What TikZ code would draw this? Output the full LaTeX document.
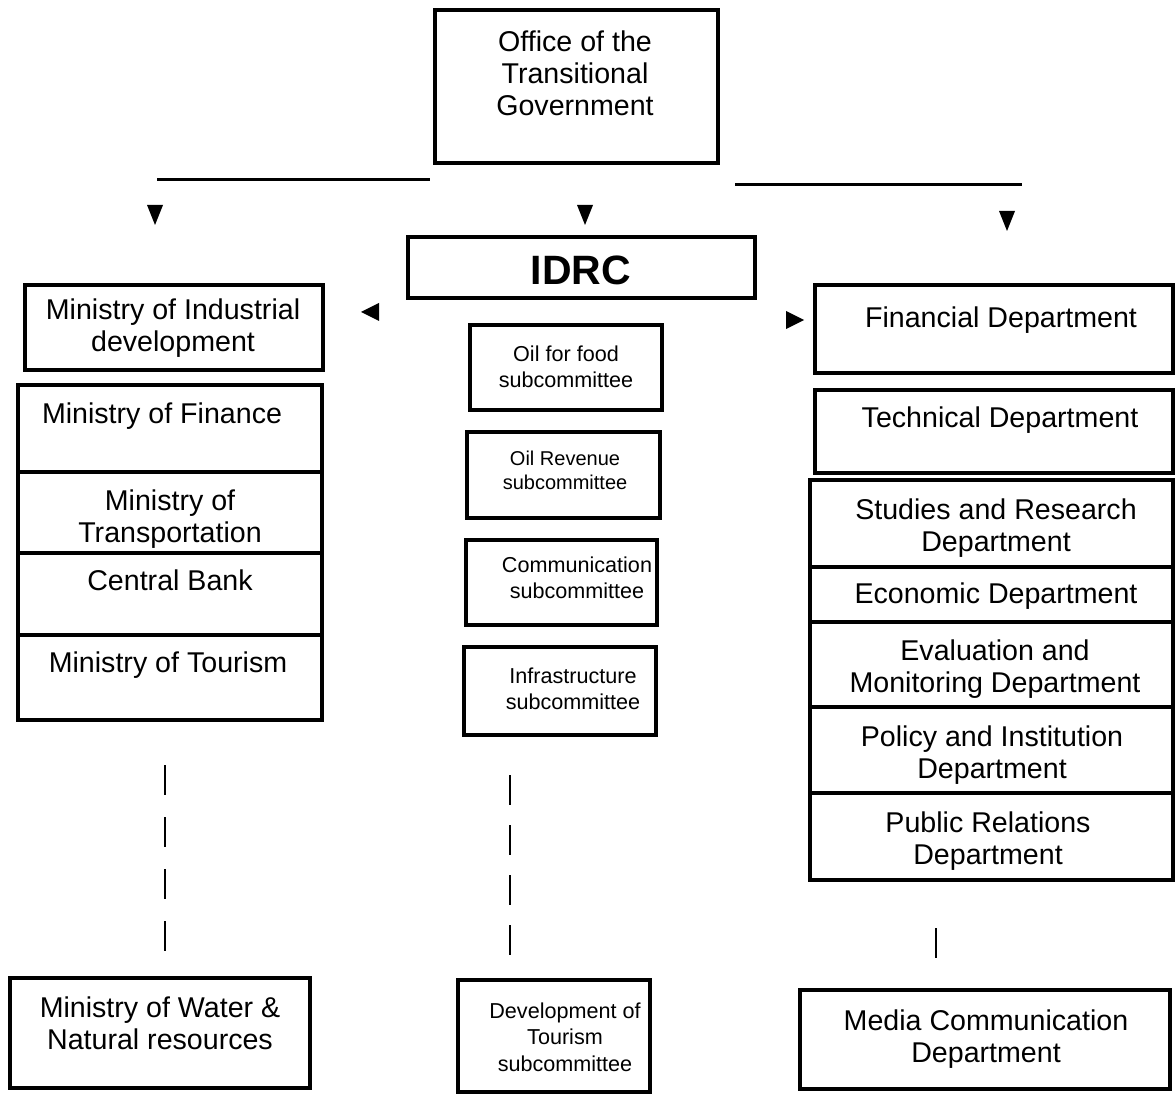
\documentclass[tikz,border=0pt]{standalone}
\usepackage{fontspec}
\setmainfont{Liberation Sans}
\usetikzlibrary{fit}
\begin{document}
\begin{tikzpicture}[x=0.5pt,y=-0.5pt,
  box/.style={draw, line width=2pt, inner sep=0pt},
  cell/.style={draw, line width=1.7pt, inner sep=0pt},
  big/.style={align=center, inner sep=0pt, font=\fontsize{14.3}{16}\selectfont},
  sml/.style={align=center, inner sep=0pt, font=\fontsize{10.8}{13.2}\selectfont},
  link/.style={line width=1.5pt},
  dashlink/.style={line width=1.1pt, dash pattern=on 15pt off 11pt},
  dashlinkb/.style={line width=1.1pt, dash pattern=on 15pt off 10pt},
  tridown/.pic={\fill (-8,-10) -- (8,-10) -- (0,10) -- cycle;},
  trileft/.pic={\fill (9,-9) -- (9,9) -- (-9,0) -- cycle;},
  triright/.pic={\fill (-9,-9) -- (-9,9) -- (9,0) -- cycle;}]
\useasboundingbox (0,0) rectangle (1176,1095);

% top office
\node[box, fit={(435,10)(718,163)}] (office) {};
\node[big] (officeT) at (575,73) {Office of the\\Transitional\\Government};

% distribution lines and markers
\coordinate (hl1) at (157,180);
\coordinate (hl2) at (430,180);
\coordinate (hr1) at (735,185);
\coordinate (hr2) at (1022,185);
\draw[link] (hl1) -- (hl2);
\draw[link] (hr1) -- (hr2);
\pic at (155,215) {tridown};
\pic at (585,215) {tridown};
\pic at (1007,221) {tridown};
\pic at (370,312) {trileft};
\pic at (795,320) {triright};

% IDRC
\node[box, fit={(408,237)(755,298)}] (idrc) {};
\node[inner sep=0pt, font=\fontsize{20.5}{22}\selectfont\bfseries] (idrcT) at (581,270) {IDRC};

% left column
\node[box, fit={(25,285)(323,370)}] (mind) {};
\node[big] (mindT) at (173,328) {Ministry of Industrial\\development};
\node[cell, fit={(18,385)(322,472)}] (mfin) {};
\node[big] (mfinT) at (162,416) {Ministry of Finance};
\node[cell, fit={(18,472)(322,553)}] (mtra) {};
\node[big] (mtraT) at (170,519) {Ministry of\\Transportation};
\node[cell, fit={(18,553)(322,635)}] (cbank) {};
\node[big] (cbankT) at (170,580) {Central Bank};
\node[cell, fit={(18,635)(322,720)}] (mtou) {};
\node[big] (mtouT) at (168,665) {Ministry of Tourism};

% middle column
\node[box, fit={(470,325)(662,410)}] (oilf) {};
\node[sml] (oilfT) at (566,367) {Oil for food\\subcommittee};
\node[box, fit={(467,432)(660,518)}] (oilr) {};
\node[align=center, inner sep=0pt, font=\fontsize{10}{12}\selectfont] (oilrT) at (565,470) {Oil Revenue\\subcommittee};
\node[box, fit={(466,540)(657,625)}] (comm) {};
\node[sml] (commT) at (577,578) {Communication\\subcommittee};
\node[box, fit={(464,647)(656,735)}] (infra) {};
\node[sml] (infraT) at (573,689) {Infrastructure\\subcommittee};

% right column
\node[box, fit={(815,285)(1173,373)}] (fin) {};
\node[big] (finT) at (1001,320) {Financial Department};
\node[box, fit={(815,390)(1173,473)}] (tech) {};
\node[big] (techT) at (1000,420) {Technical Department};
\node[cell, fit={(810,480)(1173,567)}] (stud) {};
\node[big] (studT) at (996,528) {Studies and Research\\Department};
\node[cell, fit={(810,567)(1173,622)}] (econ) {};
\node[big] (econT) at (996,596) {Economic Department};
\node[cell, fit={(810,622)(1173,707)}] (eval) {};
\node[big] (evalT) at (995,669) {Evaluation and\\Monitoring Department};
\node[cell, fit={(810,707)(1173,793)}] (poli) {};
\node[big] (poliT) at (992,755) {Policy and Institution\\Department};
\node[cell, fit={(810,793)(1173,880)}] (pubr) {};
\node[big] (pubrT) at (988,841) {Public Relations\\Department};

% bottom boxes
\node[box, fit={(10,978)(310,1088)}] (water) {};
\node[big] (waterT) at (160,1023) {Ministry of Water \&\\Natural resources};
\node[box, fit={(458,980)(650,1092)}] (devt) {};
\node[sml] (devtT) at (565,1037) {Development of\\Tourism\\subcommittee};
\node[box, fit={(800,990)(1170,1089)}] (media) {};
\node[big] (mediaT) at (986,1039) {Media Communication\\Department};

% dashed continuations
\coordinate (dl1) at (165,765);
\coordinate (dl2) at (165,952);
\coordinate (dm1) at (510,775);
\coordinate (dm2) at (510,955);
\coordinate (dr1) at (936,928);
\coordinate (dr2) at (936,958);
\draw[dashlink] (dl1) -- (dl2);
\draw[dashlinkb] (dm1) -- (dm2);
\draw[line width=1.1pt] (dr1) -- (dr2);
\end{tikzpicture}
\end{document}
